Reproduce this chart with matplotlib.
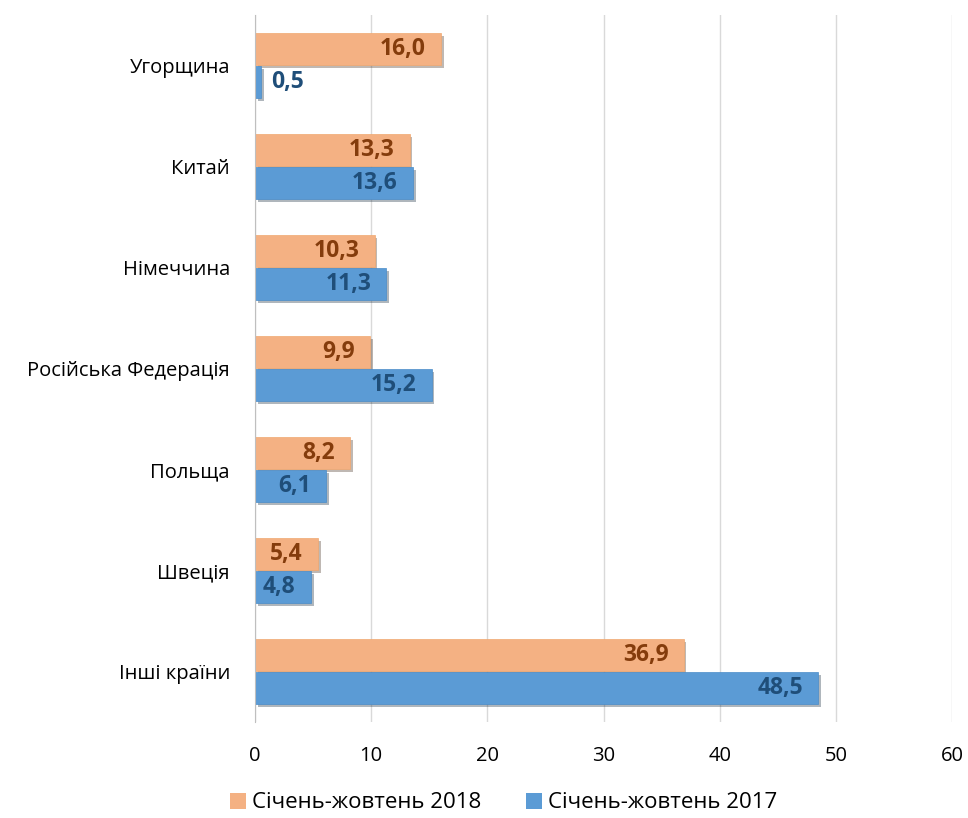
import matplotlib
matplotlib.use("Agg")
import matplotlib.pyplot as plt
import matplotlib.patheffects as pe
from matplotlib.patches import Patch
import numpy as np

categories = ["Угорщина", "Китай", "Німеччина", "Російська Федерація", "Польща", "Швеція", "Інші країни"]
values_2018 = [16.0, 13.3, 10.3, 9.9, 8.2, 5.4, 36.9]
values_2017 = [0.5, 13.6, 11.3, 15.2, 6.1, 4.8, 48.5]
series_names = ["Січень-жовтень 2018", "Січень-жовтень 2017"]
xticks = [0, 10, 20, 30, 40, 50, 60]

plt.rcParams['font.family'] = ['Open Sans', 'DejaVu Sans']

fig = plt.figure(figsize=(9.68, 8.18), dpi=100)
ax = fig.add_axes([255/968, 1 - 722/818, (952-255)/968, (722-15)/818])

y = np.arange(len(categories))
h = 0.315
shadow = [pe.SimplePatchShadow(offset=(2, -2), alpha=0.35), pe.Normal()]
c18 = "#F4B183"
c17 = "#5B9BD5"
b18 = ax.barh(y - h/2 - 0.005, values_2018, height=h, color=c18, edgecolor="#F0A870", linewidth=0.5, zorder=3)
b17 = ax.barh(y + h/2 + 0.005, values_2017, height=h, color=c17, edgecolor="#4A8CC8", linewidth=0.5, zorder=3)
for b in list(b18) + list(b17):
    b.set_path_effects(shadow)

def fmt(v):
    return f"{v:.1f}".replace(".", ",")

for i, v in enumerate(values_2018):
    ax.text(v - 1.3, y[i] - h/2 - 0.005, fmt(v), ha="right", va="center", fontsize=16.5, fontweight="bold", color="#843C0C", zorder=4)
for i, v in enumerate(values_2017):
    if v < 3:
        ax.text(v + 0.9, y[i] + h/2 + 0.005, fmt(v), ha="left", va="center", fontsize=16.5, fontweight="bold", color="#1F4E79", zorder=4)
    else:
        ax.text(v - 1.3, y[i] + h/2 + 0.005, fmt(v), ha="right", va="center", fontsize=16.5, fontweight="bold", color="#1F4E79", zorder=4)

ax.set_xlim(0, 60)
ax.set_ylim(len(categories) - 0.5, -0.5)
ax.set_xticks(xticks)
ax.set_xticklabels([str(t) for t in xticks], fontsize=14.5)
ax.set_yticks(y)
ax.set_yticklabels(categories, fontsize=14.5)
ax.tick_params(axis="x", length=0, pad=17)
ax.tick_params(axis="y", length=0, pad=18)
ax.grid(axis="x", color="#D9D9D9", linewidth=1, zorder=0)
for s in ["top", "right", "bottom"]:
    ax.spines[s].set_visible(False)
ax.spines["left"].set_color("#BFBFBF")
ax.spines["left"].set_zorder(5)

handles = [Patch(facecolor=c18, edgecolor="none"), Patch(facecolor=c17, edgecolor="none")]
leg = fig.legend(handles=handles, labels=series_names, loc="center", bbox_to_anchor=(0.52, 1 - 803/818),
                 ncol=2, frameon=False, fontsize=16, handlelength=0.75, handleheight=0.75, handletextpad=0.25, columnspacing=2.0)

fig.savefig("out.png", dpi=100)
